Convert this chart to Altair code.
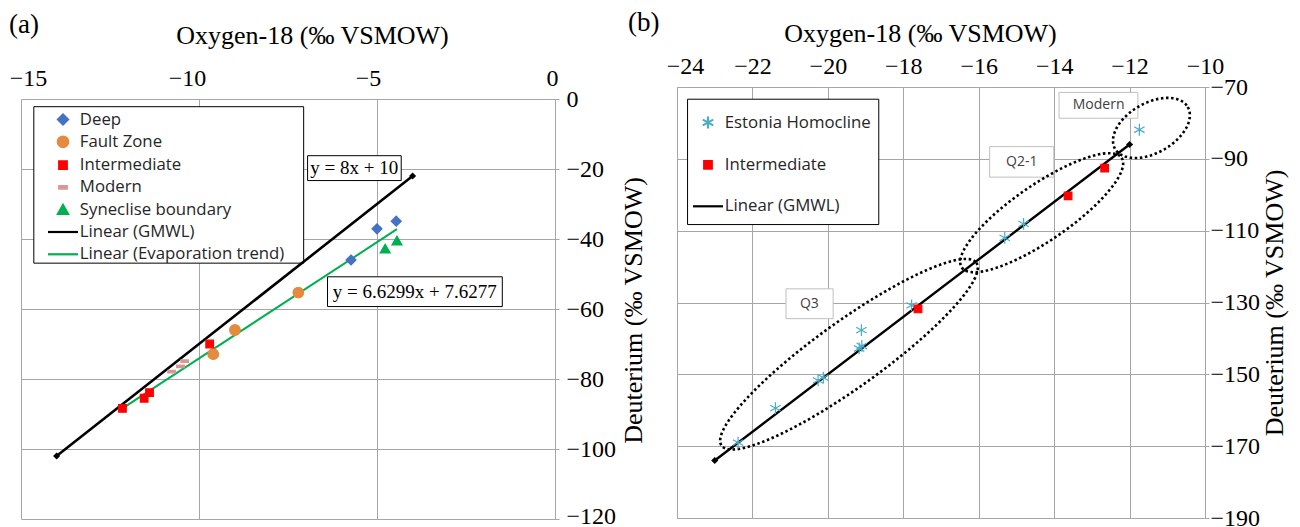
import numpy as np
import pandas as pd
import altair as alt

SERIF = "Liberation Serif"
SANS = "Open Sans"
GRID = "#a6a6a6"

# ---------------- panel (a) data ----------------
a_series = ["Deep", "Fault Zone", "Intermediate", "Modern", "Syneclise boundary",
            "Linear (GMWL)", "Linear (Evaporation trend)"]
a_colors = ["#4472C4", "#E38B3F", "#FF0000", "#D99694", "#00B050", "#000000", "#00B050"]

deep_o18 = [-5.73, -5.00, -4.46]
deep_d2h = [-46.0, -37.1, -34.9]
fault_o18 = [-7.21, -8.99, -9.60]
fault_d2h = [-55.3, -66.0, -72.9]
inter_a_o18 = [-9.70, -11.39, -11.54, -12.15]
inter_a_d2h = [-70.0, -83.9, -85.5, -88.4]
modern_o18 = [-10.40, -10.52, -10.77]
modern_d2h = [-74.9, -76.4, -77.9]
syne_o18 = [-4.77, -4.44]
syne_d2h = [-42.8, -40.5]

gmwl_a_o18 = [-14.0, -4.0]
gmwl_a_d2h = [-102.0, -22.0]
evap_o18 = [-12.15, -4.44]
evap_d2h = [-88.4, -37.2]

eq_text = ["y = 8x + 10", "y = 6.6299x + 7.6277"]
eq_x = [-5.64, -3.94]
eq_y = [-19.8, -55.0]
eq_x1 = [-6.95, -6.39]
eq_x2 = [-4.32, -1.48]
eq_y1 = [-16.2, -50.8]
eq_y2 = [-23.3, -59.3]

lega_x = [-14.64, -7.06]
lega_y = [-2.2, -46.9]

# ---------------- panel (b) data ----------------
b_series = ["Estonia Homocline", "Intermediate", "Linear (GMWL)"]
b_colors = ["#4BACC6", "#FF0000", "#000000"]

est_o18 = [-22.38, -21.39, -20.26, -20.12, -19.17, -19.10, -19.11, -17.78, -15.31, -14.81, -11.74]
est_d2h = [-169.0, -159.4, -151.7, -150.9, -142.8, -142.1, -137.7, -130.8, -112.0, -108.1, -81.9]
inter_b_o18 = [-17.61, -13.63, -12.66]
inter_b_d2h = [-131.8, -100.3, -92.6]

gmwl_b_o18 = [-23.0, -12.0]
gmwl_b_d2h = [-174.0, -86.0]

grp_text = ["Modern", "Q2-1", "Q3"]
grp_x = [-12.82, -14.86, -20.49]
grp_y = [-75.1, -90.85, -130.4]
grp_x1 = [-13.87, -15.71, -21.11]
grp_x2 = [-11.78, -14.01, -19.86]
grp_y1 = [-71.5, -86.6, -126.2]
grp_y2 = [-78.7, -95.1, -134.5]

# dotted group ellipses: centre, half major-axis vector, half minor-axis vector
ell_name = ["Q3", "Q2-1", "Modern"]
ell_cx = [-19.44, -14.33, -11.42]
ell_cy = [-144.4, -105.0, -81.4]
ell_ux = [3.378, 2.119, 0.964]
ell_uy = [25.47, 15.28, 5.83]
ell_vx = [0.510, 0.421, 0.331]
ell_vy = [-7.44, -6.42, -6.01]

legb_x = [-23.72, -18.65]
legb_y = [-73.4, -108.3]

# ---------------- marker shapes (SVG paths, unit = 10 px) ----------------
DIAMOND = "M0,-0.5L0.5,0L0,0.5L-0.5,0Z"
CIRCLE = "M-0.53,0A0.53,0.53,0,1,0,0.53,0A0.53,0.53,0,1,0,-0.53,0Z"
SQUARE = "M-0.38,-0.38H0.38V0.38H-0.38Z"
DASH = "M-0.38,-0.13H0.38V0.13H-0.38Z"
TRIANGLE = "M0,-0.46L0.5,0.42H-0.5Z"
LINE = "M-1.5,0H1.5"
ASTER = "M0,-0.59V0.59M-0.52,-0.29L0.52,0.29M-0.52,0.29L0.52,-0.29"

a_shapes = [DIAMOND, CIRCLE, SQUARE, DASH, TRIANGLE, LINE, LINE]
b_shapes = [ASTER, SQUARE, LINE]

# ---------------- tables ----------------
pts_a = pd.DataFrame({
    "x": deep_o18 + fault_o18 + inter_a_o18 + modern_o18 + syne_o18,
    "y": deep_d2h + fault_d2h + inter_a_d2h + modern_d2h + syne_d2h,
    "series": ["Deep"] * len(deep_o18) + ["Fault Zone"] * len(fault_o18)
    + ["Intermediate"] * len(inter_a_o18) + ["Modern"] * len(modern_o18)
    + ["Syneclise boundary"] * len(syne_o18),
})
gmwl_a = pd.DataFrame({"x": gmwl_a_o18, "y": gmwl_a_d2h})
evap_a = pd.DataFrame({"x": evap_o18, "y": evap_d2h})
eq_df = pd.DataFrame({"x": eq_x, "y": eq_y, "x1": eq_x1, "x2": eq_x2,
                      "y1": eq_y1, "y2": eq_y2, "t": eq_text})
lega_df = pd.DataFrame({"x1": [lega_x[0]], "x2": [lega_x[1]],
                        "y1": [lega_y[0]], "y2": [lega_y[1]]})

pts_b = pd.DataFrame({
    "x": est_o18 + inter_b_o18,
    "y": est_d2h + inter_b_d2h,
    "series": ["Estonia Homocline"] * len(est_o18) + ["Intermediate"] * len(inter_b_o18),
})
gmwl_b = pd.DataFrame({"x": gmwl_b_o18, "y": gmwl_b_d2h})
grp_df = pd.DataFrame({"x": grp_x, "y": grp_y, "x1": grp_x1, "x2": grp_x2,
                       "y1": grp_y1, "y2": grp_y2, "t": grp_text})
legb_df = pd.DataFrame({"x1": [legb_x[0]], "x2": [legb_x[1]],
                        "y1": [legb_y[0]], "y2": [legb_y[1]]})

tt = np.linspace(0, 2 * np.pi, 145)
ell_rows = []
for k, nm in enumerate(ell_name):
    for i, t in enumerate(tt):
        ell_rows.append({
            "name": nm, "i": i,
            "x": ell_cx[k] + ell_ux[k] * np.cos(t) + ell_vx[k] * np.sin(t),
            "y": ell_cy[k] + ell_uy[k] * np.cos(t) + ell_vy[k] * np.sin(t),
        })
ell_df = pd.DataFrame(ell_rows)

# ---------------- encodings ----------------
A_H = 432          # panel (a) group height; its plot frame starts 12px lower than (b)
A_TOP = 12
sx_a = alt.Scale(domain=[-15, 0], nice=False, zero=False)
sy_a = alt.Scale(domain=[-120, 0], nice=False, zero=False, range=[A_H, A_TOP])
xa_label_offset = {
    "condition": [
        {"test": "datum.value == -15", "value": 7},
        {"test": "datum.value == -10", "value": -12},
        {"test": "datum.value == -5", "value": -9},
    ],
    "value": -3,
}
ya_label_offset = {"condition": {"test": "datum.value == -120", "value": -3}, "value": 0}
ax_xa = alt.Axis(orient="top", values=[-15, -10, -5, 0], title="Oxygen-18 (‰ VSMOW)",
                 ticks=False, labelPadding=9, titlePadding=18, titleX=291, grid=True,
                 offset=-A_TOP, labelFlush=False, labelOffset=xa_label_offset)
ax_ya = alt.Axis(orient="right", values=[-120, -100, -80, -60, -40, -20, 0], title=None,
                 tickSize=4, labelPadding=7, grid=True, labelOffset=ya_label_offset)
XA = alt.X("x:Q", scale=sx_a, axis=ax_xa)
YA = alt.Y("y:Q", scale=sy_a, axis=ax_ya)
XA1 = alt.X("x1:Q", scale=sx_a, axis=ax_xa)
YA1 = alt.Y("y1:Q", scale=sy_a, axis=ax_ya)

sx_b = alt.Scale(domain=[-24, -10], nice=False, zero=False)
sy_b = alt.Scale(domain=[-190, -70], nice=False, zero=False)
xb_label_offset = {"condition": {"test": "datum.value == -24", "value": 8}, "value": 0}
ax_xb = alt.Axis(orient="top", values=list(range(-24, -9, 2)), title="Oxygen-18 (‰ VSMOW)",
                 ticks=False, labelPadding=9, titlePadding=8, titleX=243, grid=True,
                 labelFlush=False, labelOffset=xb_label_offset)
ax_yb = alt.Axis(orient="right", values=list(range(-190, -69, 20)), title="Deuterium (‰ VSMOW)",
                 tickSize=4, labelPadding=1, titlePadding=2, titleAngle=270,
                 titleBaseline="top", grid=True)
ax_yb_left = alt.Axis(orient="left", labels=False, ticks=False, domain=False, grid=False,
                      title="Deuterium (‰ VSMOW)", titlePadding=31, titleY=223)
XB = alt.X("x:Q", scale=sx_b, axis=ax_xb)
XB1 = alt.X("x1:Q", scale=sx_b, axis=ax_xb)


def legend(lx, ly, row_pad):
    return alt.Legend(orient="none", legendX=lx, legendY=ly, title=None, padding=0,
                      labelFont=SANS, labelFontSize=16.8, labelColor="#262626",
                      labelLimit=400, symbolSize=400, symbolStrokeWidth=2.2,
                      symbolOffset=3.5, labelOffset=5.3, rowPadding=row_pad)


def points(df, domain, colors, shapes, lg, X, Y):
    return alt.Chart(df).mark_point(filled=True, size=400, strokeWidth=1.2, opacity=1).encode(
        x=X, y=Y,
        fill=alt.Fill("series:N", scale=alt.Scale(domain=domain, range=colors), legend=lg),
        stroke=alt.Stroke("series:N", scale=alt.Scale(domain=domain, range=colors), legend=lg),
        shape=alt.Shape("series:N", scale=alt.Scale(domain=domain, range=shapes), legend=lg),
    )


# ---------------- panel (a) ----------------
lg_a = legend(27, 21, 1.3)
a_legbox = alt.Chart(lega_df).mark_rect(fill="white", stroke="black", strokeWidth=1).encode(
    x=XA1, x2="x2:Q", y=YA1, y2="y2:Q")
a_eqbox = alt.Chart(eq_df).mark_rect(fill="white", stroke="black", strokeWidth=1).encode(
    x=XA1, x2="x2:Q", y=YA1, y2="y2:Q")
a_eqtxt = alt.Chart(eq_df).mark_text(font=SERIF, fontSize=19, color="black").encode(
    x=XA, y=YA, text="t:N")
a_gmwl = alt.Chart(gmwl_a).mark_line(color="black", strokeWidth=2.6).encode(x=XA, y=YA)
a_gmwl_end = alt.Chart(gmwl_a).mark_point(shape="diamond", filled=True, color="black",
                                          size=50, opacity=1).encode(x=XA, y=YA)
a_evap = alt.Chart(evap_a).mark_line(color="#00B050", strokeWidth=2).encode(x=XA, y=YA)
a_pts = points(pts_a, a_series, a_colors, a_shapes, lg_a, XA, YA)

panel_a = alt.layer(a_legbox, a_eqbox, a_eqtxt, a_gmwl, a_evap, a_gmwl_end, a_pts).properties(
    width=534, height=A_H,
    view=alt.ViewBackground(stroke="transparent"),
    title=alt.TitleParams("(a)", anchor="start", frame="group", dx=-12, dy=17, offset=0,
                          font=SERIF, fontSize=27, fontWeight="normal", color="black"),
)

# ---------------- panel (b) ----------------
lg_b = legend(16, 24, 20.4)
YB_left = alt.Y("y1:Q", scale=sy_b, axis=ax_yb_left)
b_legbox = alt.Chart(legb_df).mark_rect(fill="white", stroke="black", strokeWidth=1).encode(
    x=XB1, x2="x2:Q", y=YB_left, y2="y2:Q")
b_grpbox = alt.Chart(grp_df).mark_rect(fill="white", stroke="#bfbfbf", strokeWidth=1).encode(
    x=XB1, x2="x2:Q", y=alt.Y("y1:Q", scale=sy_b, axis=None), y2="y2:Q")
b_grptxt = alt.Chart(grp_df).mark_text(font=SANS, fontSize=14, color="#404040").encode(
    x=XB, y=alt.Y("y:Q", scale=sy_b, axis=None), text="t:N")
b_ell = alt.Chart(ell_df).mark_line(color="black", strokeWidth=2.6, strokeDash=[2.5, 2.6]).encode(
    x=XB, y=alt.Y("y:Q", scale=sy_b, axis=None), detail="name:N", order="i:Q")
b_gmwl = alt.Chart(gmwl_b).mark_line(color="black", strokeWidth=2.4).encode(
    x=XB, y=alt.Y("y:Q", scale=sy_b, axis=None))
b_gmwl_end = alt.Chart(gmwl_b).mark_point(shape="diamond", filled=True, color="black",
                                          size=50, opacity=1).encode(
    x=XB, y=alt.Y("y:Q", scale=sy_b, axis=None))
b_pts = points(pts_b, b_series, b_colors, b_shapes, lg_b, XB,
               alt.Y("y:Q", scale=sy_b, axis=ax_yb))

panel_b = alt.layer(b_legbox, b_grpbox, b_grptxt, b_ell, b_gmwl, b_gmwl_end, b_pts).resolve_axis(
    y="independent").properties(
    width=528, height=431,
    title=alt.TitleParams("(b)", anchor="start", frame="group", dx=-49, dy=17, offset=0,
                          font=SERIF, fontSize=27, fontWeight="normal", color="black"),
)

chart = alt.hconcat(panel_a, panel_b, spacing=2).resolve_scale(
    fill="independent", stroke="independent", shape="independent"
).resolve_legend(fill="independent", stroke="independent", shape="independent").properties(
    padding={"left": 0, "top": 0, "right": 0, "bottom": 0}
).configure_view(stroke=GRID, strokeWidth=1).configure_axis(
    labelFont=SERIF, labelFontSize=24, labelColor="black",
    titleFont=SERIF, titleFontSize=26, titleFontWeight="normal", titleColor="black",
    gridColor=GRID, gridOpacity=1, domainColor=GRID, tickColor=GRID,
).configure_title(font=SERIF)

chart.save("out.html", embed_options={"renderer": "svg", "actions": False})
